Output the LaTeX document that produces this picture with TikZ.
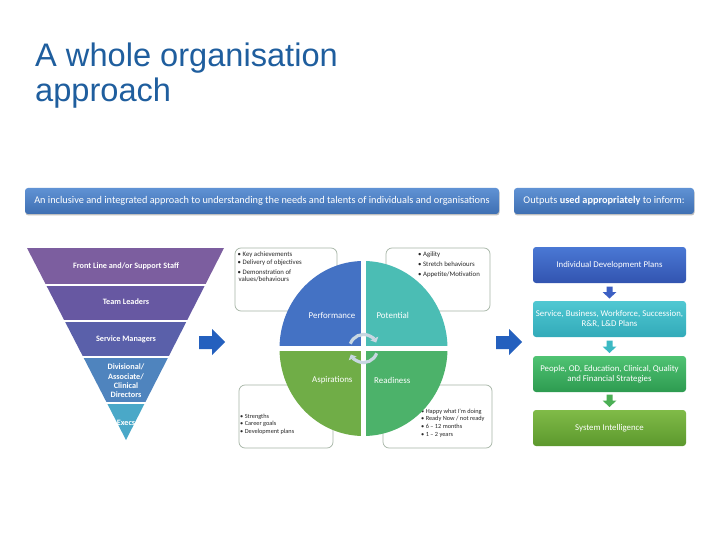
\documentclass[tikz,border=0pt]{standalone}
\usepackage{fontspec}
\setmainfont{Carlito}
\newfontfamily\titlefont{Liberation Sans}
\usetikzlibrary{arrows.meta,calc}
\definecolor{titleblue}{RGB}{31,94,158}
\definecolor{hdtop}{RGB}{96,146,212}
\definecolor{hdbot}{RGB}{62,111,178}
\definecolor{fa}{RGB}{124,94,159}
\definecolor{fb}{RGB}{103,88,162}
\definecolor{fc}{RGB}{90,96,170}
\definecolor{fd}{RGB}{79,132,190}
\definecolor{fe}{RGB}{74,168,200}
\definecolor{arrblue}{RGB}{36,96,190}
\definecolor{qperf}{RGB}{68,114,196}
\definecolor{qpot}{RGB}{75,189,180}
\definecolor{qasp}{RGB}{112,173,71}
\definecolor{qread}{RGB}{76,178,106}
\definecolor{boxline}{RGB}{165,180,165}
\definecolor{cyc}{RGB}{200,215,226}
\definecolor{bodytext}{RGB}{40,40,40}
\definecolor{ra1}{RGB}{74,120,212}\definecolor{ra2}{RGB}{50,84,176}
\definecolor{rb1}{RGB}{80,200,210}\definecolor{rb2}{RGB}{50,170,185}
\definecolor{rc1}{RGB}{80,195,115}\definecolor{rc2}{RGB}{45,155,80}
\definecolor{rd1}{RGB}{128,187,72}\definecolor{rd2}{RGB}{92,152,45}
\definecolor{da}{RGB}{60,95,195}
\definecolor{db}{RGB}{60,185,195}
\definecolor{dc}{RGB}{75,175,85}
\tikzset{
  header/.style={rounded corners=3pt, top color=hdtop, bottom color=hdbot},
  hdtext/.style={text=white, font=\fontsize{10.3}{12}\selectfont, inner sep=0pt},
  funtext/.style={text=white, font=\bfseries\fontsize{8.2}{9.4}\selectfont, align=center, inner sep=0pt},
  bulletbox/.style={draw=boxline, line width=0.7pt, fill=white, rounded corners=6pt},
  bullettext/.style={text=bodytext, align=left, anchor=north west, inner sep=0pt},
  quadtext/.style={text=white, font=\fontsize{8.9}{10}\selectfont, inner sep=0pt},
  outbox/.style={rounded corners=3pt},
  outtext/.style={text=white, font=\fontsize{8.8}{10.2}\selectfont, align=center, inner sep=0pt},
  cycarrow/.style={draw=cyc, line width=3.2pt, -{Triangle[width=8.5pt,length=4.5pt]}},
}
\begin{document}
\begin{tikzpicture}[x=1pt,y=-1pt]
\useasboundingbox (0,0) rectangle (720,540);
\fill[white] (0,0) rectangle (720,540);

% title
\node[anchor=base west, inner sep=0pt, text=titleblue, font=\titlefont\fontsize{32.6}{35}\selectfont] (title1) at (35,67) {A whole organisation};
\node[anchor=base west, inner sep=0pt, text=titleblue, font=\titlefont\fontsize{32.6}{35}\selectfont] (title2) at (35,102) {approach};

% headers
\fill[black!25, rounded corners=3pt] (25.5,189.5) rectangle (499.5,215.5);
\path[header] (25,188) rectangle (499,214);
\node[hdtext] (h1) at (262,201) {An inclusive and integrated approach to understanding the needs and talents of individuals and organisations};
\fill[black!25, rounded corners=3pt] (514.5,189.5) rectangle (694.5,215.5);
\path[header] (514,188) rectangle (694,214);
\node[hdtext] (h2) at (604,201) {Outputs \textbf{used appropriately} to inform:};

% funnel
\coordinate (fTL) at (27,248); \coordinate (fTR) at (224,248); \coordinate (fA) at (126,440);
\fill[fa] (fTL) -- (fTR) -- ($(fTR)!.1927!(fA)$) -- ($(fTL)!.1927!(fA)$) -- cycle;
\fill[fb] ($(fTL)!.1927!(fA)$) -- ($(fTR)!.1927!(fA)$) -- ($(fTR)!.380!(fA)$) -- ($(fTL)!.380!(fA)$) -- cycle;
\fill[fc] ($(fTL)!.380!(fA)$) -- ($(fTR)!.380!(fA)$) -- ($(fTR)!.5677!(fA)$) -- ($(fTL)!.5677!(fA)$) -- cycle;
\fill[fd] ($(fTL)!.5677!(fA)$) -- ($(fTR)!.5677!(fA)$) -- ($(fTR)!.807!(fA)$) -- ($(fTL)!.807!(fA)$) -- cycle;
\fill[fe] ($(fTL)!.807!(fA)$) -- ($(fTR)!.807!(fA)$) -- (fA) -- cycle;
\foreach \t in {.1927,.380,.5677,.807}
  \draw[white, line width=1.6pt] ($(fTL)!\t!(fA)+(-3,0)$) -- ($(fTR)!\t!(fA)+(3,0)$);
\node[funtext] (f1) at (126,266) {Front Line and/or Support Staff};
\node[funtext] (f2) at (126,302) {Team Leaders};
\node[funtext] (f3) at (126,339) {Service Managers};
\node[funtext] (f4) at (126,381) {Divisional/\\Associate/\\Clinical\\Directors};
\node[funtext] (f5) at (126,423) {Execs};

% block arrows
\fill[arrblue] (199,336) -- (212,336) -- (212,329) -- (225,342) -- (212,355) -- (212,349) -- (199,349) -- cycle;
\fill[arrblue] (496,336) -- (509,336) -- (509,329) -- (522,342) -- (509,355) -- (509,349) -- (496,349) -- cycle;

% bullet boxes
\draw[bulletbox] (235,248) rectangle (337,311);
\draw[bulletbox] (386,248) rectangle (490,311);
\draw[bulletbox] (239,385) rectangle (333,448);
\draw[bulletbox] (383,385) rectangle (492,448);
\node[bullettext, font=\fontsize{6.8}{8}\selectfont] (b1) at (237.5,252) {\textbullet\ Key achievements\\\textbullet\ Delivery of objectives\\[2pt]\textbullet\ Demonstration of\\[-1pt]\hspace*{1pt}values/behaviours};
\node[bullettext, font=\fontsize{6.8}{9.8}\selectfont] (b2) at (418,251.5) {\textbullet\ Agility\\\textbullet\ Stretch behaviours\\\textbullet\ Appetite/Motivation};
\node[bullettext, font=\fontsize{6.3}{7.7}\selectfont] (b3) at (240,413.5) {\textbullet\ Strengths\\\textbullet\ Career goals\\\textbullet\ Development plans};
\node[bullettext, font=\fontsize{6.3}{7.8}\selectfont] (b4) at (421,408.5) {\textbullet\ Happy what I'm doing\\\textbullet\ Ready Now / not ready\\\textbullet\ 6 -- 12 months\\\textbullet\ 1 -- 2 years};

% circle quadrants
\coordinate (cc) at (363.5,348.5);
\fill[qperf] (cc) -- ++(-84,0) arc[start angle=180, end angle=270, x radius=84, y radius=87.5] -- cycle;
\fill[qpot] (cc) -- ++(0,-87.5) arc[start angle=270, end angle=360, x radius=84, y radius=87.5] -- cycle;
\fill[qread] (cc) -- ++(84,0) arc[start angle=0, end angle=90, x radius=84, y radius=87.5] -- cycle;
\fill[qasp] (cc) -- ++(0,87.5) arc[start angle=90, end angle=180, x radius=84, y radius=87.5] -- cycle;
\draw[white, line width=4.8pt] (277,348.5) -- (450,348.5);
\draw[white, line width=4.8pt] (363.5,259) -- (363.5,438);
\node[quadtext] (qp) at (332,315.5) {Performance};
\node[quadtext] (qo) at (392.7,315.5) {Potential};
\node[quadtext] (qa) at (332.3,380) {Aspirations};
\node[quadtext] (qr) at (392.3,380) {Readiness};
\draw[cycarrow] (cc) ++(200:14) arc[start angle=200, end angle=335, radius=14];
\draw[cycarrow] (cc) ++(20:14) arc[start angle=20, end angle=155, radius=14];

% output boxes
\path[outbox, top color=ra1, bottom color=ra2] (533,247) rectangle (686,283);
\node[outtext] (o1) at (609.5,265) {Individual Development Plans};
\path[outbox, top color=rb1, bottom color=rb2] (533,301) rectangle (686,337);
\node[outtext] (o2) at (609.5,319) {Service, Business, Workforce, Succession,\\R\&R, L\&D Plans};
\path[outbox, top color=rc1, bottom color=rc2] (533,356) rectangle (686,392);
\node[outtext] (o3) at (609.5,374) {People, OD, Education, Clinical, Quality\\and Financial Strategies};
\path[outbox, top color=rd1, bottom color=rd2] (533,410) rectangle (686,446);
\node[outtext] (o4) at (609.5,428) {System Intelligence};

% down arrows
\fill[da] (606.5,286.5) -- (612.5,286.5) -- (612.5,292) -- (616.5,292) -- (609.5,298.5) -- (602.5,292) -- (606.5,292) -- cycle;
\fill[db] (606.5,340.5) -- (612.5,340.5) -- (612.5,346.5) -- (616.5,346.5) -- (609.5,353) -- (602.5,346.5) -- (606.5,346.5) -- cycle;
\fill[dc] (606.5,394.5) -- (612.5,394.5) -- (612.5,400.5) -- (616.5,400.5) -- (609.5,407) -- (602.5,400.5) -- (606.5,400.5) -- cycle;
\end{tikzpicture}
\end{document}
